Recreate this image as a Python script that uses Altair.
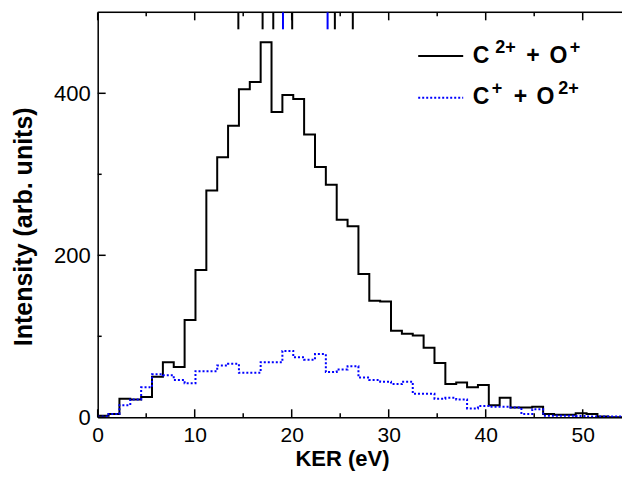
import altair as alt
import pandas as pd

# ---------------- data ----------------
bin_width = 1.12  # eV
black_counts = [2, 4, 23, 22, 25, 50, 68, 62, 120, 182,
                280, 321, 360, 405, 414, 463, 377, 398, 393, 349,
                309, 287, 244, 236, 177, 144, 143, 107, 103, 101,
                86, 67, 41, 43, 37, 40, 15, 24, 12, 12,
                13, 4, 3, 3, 5, 4, 1, 0, 0]
blue_counts = [1, 4, 15, 22, 37, 53, 52, 46, 42, 57,
               57, 64, 66, 55, 55, 68, 68, 82, 74, 71,
               78, 56, 59, 63, 49, 46, 44, 41, 44, 29,
               29, 23, 24, 22, 11, 14, 13, 13, 12, 4,
               10, 2, 2, 2, 1.5, 1, 1, 1, 1]
black_markers = [14.5, 17.0, 18.1, 20.05, 24.45, 26.3]
blue_markers = [19.1, 23.7]
x_major = [0, 10, 20, 30, 40, 50]
x_minor = [5, 15, 25, 35, 45]
y_major = [0, 200, 400]
y_minor = [100, 300]

# ---------------- layout ----------------
PX_PER_EV = 9.70
PLOT_W = 524.3
PLOT_H = 405
XMAX = PLOT_W / PX_PER_EV
YMAX = 500
FONT = "Liberation Sans"

# ---------------- tables ----------------
edges = [round(i * bin_width, 4) for i in range(len(black_counts) + 1)]
df_black = pd.DataFrame({"ker": edges, "val": black_counts + [black_counts[-1]]})
df_blue = pd.DataFrame({"ker": edges, "val": blue_counts + [blue_counts[-1]]})

# inward tick marks (lengths in data units)
XT_MAJ, XT_MIN = 9.9, 4.9      # along y (counts)
YT_MAJ, YT_MIN = 0.82, 0.41    # along x (eV)
rows = []
for t in x_major:
    rows.append(dict(ker=t, ker2=t, val=0, val2=XT_MAJ))
    rows.append(dict(ker=t, ker2=t, val=YMAX, val2=YMAX - XT_MAJ))
for t in x_minor:
    rows.append(dict(ker=t, ker2=t, val=0, val2=XT_MIN))
    rows.append(dict(ker=t, ker2=t, val=YMAX, val2=YMAX - XT_MIN))
for t in y_major:
    rows.append(dict(ker=0, ker2=YT_MAJ, val=t, val2=t))
for t in y_minor:
    rows.append(dict(ker=0, ker2=YT_MIN, val=t, val2=t))
rows.append(dict(ker=0, ker2=XMAX, val=YMAX, val2=YMAX))  # top frame line
df_ticks = pd.DataFrame(rows)

MK_LEN = 21
df_mk_black = pd.DataFrame({"ker": black_markers, "val": [YMAX] * len(black_markers),
                            "val2": [YMAX - MK_LEN] * len(black_markers)})
df_mk_blue = pd.DataFrame({"ker": blue_markers, "val": [YMAX] * len(blue_markers),
                           "val2": [YMAX - MK_LEN] * len(blue_markers)})

# ---------------- encodings ----------------
xscale = alt.Scale(domain=[0, XMAX], nice=False, zero=False)
yscale = alt.Scale(domain=[0, YMAX], nice=False, zero=False)

x_axis = alt.Axis(values=x_major, ticks=False, grid=False, labelPadding=7,
                  labelFontSize=21, labelFont=FONT, labelColor="black",
                  domainColor="black", domainWidth=1.5,
                  title="KER (eV)", titleFont=FONT, titleFontSize=22,
                  titleFontWeight="bold", titleColor="black",
                  titleBaseline="alphabetic", titleY=48.5, titleX=244.3,
                  titleAlign="center", labelFlush=False)
y_axis = alt.Axis(values=y_major, ticks=False, grid=False, labelPadding=7.5,
                  labelFontSize=22, labelFont=FONT, labelColor="black",
                  domainColor="black", domainWidth=1.5,
                  title="Intensity (arb. units)", titleFont=FONT, titleFontSize=25,
                  titleFontWeight="bold", titleColor="black",
                  titleBaseline="alphabetic", titleX=-66, titleY=214,
                  titleAngle=270, titleAlign="center", labelFlush=False)


def X():
    return alt.X("ker:Q", scale=xscale, axis=x_axis)


def Y():
    return alt.Y("val:Q", scale=yscale, axis=y_axis)


black_line = alt.Chart(df_black).mark_line(
    interpolate="step-after", color="black", strokeWidth=2, clip=True
).encode(x=X(), y=Y())

blue_line = alt.Chart(df_blue).mark_line(
    interpolate="step-after", color="#0000ff", strokeWidth=2,
    strokeDash=[2, 2], clip=True
).encode(x=X(), y=Y())

ticks = alt.Chart(df_ticks).mark_rule(color="black", strokeWidth=1.5).encode(
    x=X(), x2="ker2:Q", y=Y(), y2="val2:Q")

mk_black = alt.Chart(df_mk_black).mark_rule(color="black", strokeWidth=2).encode(
    x=X(), y=Y(), y2="val2:Q")
mk_blue = alt.Chart(df_mk_blue).mark_rule(color="#0000ff", strokeWidth=2).encode(
    x=X(), y=Y(), y2="val2:Q")

# ---------------- legend ----------------
one = pd.DataFrame({"a": [0]})


def leg_rule(y, color, dash=None):
    kw = dict(color=color, strokeWidth=2)
    if dash:
        kw["strokeDash"] = dash
    return alt.Chart(one).mark_rule(**kw).encode(
        x=alt.value(320.5), x2=alt.value(365.5), y=alt.value(y))


def leg_text(txt, x, y, size):
    return alt.Chart(one).mark_text(
        text=txt, align="center", baseline="alphabetic", font=FONT,
        fontWeight="bold", fontSize=size, color="black"
    ).encode(x=alt.value(x), y=alt.value(y))


BIG, SUP = 23, 18
L1, L1S = 51, 41
L2, L2S = 91.7, 81.2
legend = [
    leg_rule(43.7, "black"),
    leg_rule(85.4, "#0000ff", [2, 2]),
    # C2+ + O+
    leg_text("C", 383.3, L1, BIG),
    leg_text("2+", 407.8, L1S, SUP),
    leg_text("+", 435.3, L1, BIG),
    leg_text("O", 460.8, L1, BIG),
    leg_text("+", 477.3, L1S, SUP),
    # C+ + O2+
    leg_text("C", 383.3, L2, BIG),
    leg_text("+", 399.3, L2S, SUP),
    leg_text("+", 422.8, L2, BIG),
    leg_text("O", 447.8, L2, BIG),
    leg_text("2+", 470.8, L2S, SUP),
]

chart = alt.layer(black_line, blue_line, ticks, mk_black, mk_blue, *legend).properties(
    width=PLOT_W, height=PLOT_H,
    padding={"left": 89.7, "top": 4.3, "right": 0, "bottom": 53.7},
    autosize=alt.AutoSizeParams(type="none"),
).configure_view(stroke=None).configure(background="white")

chart.save("out.html", embed_options={"renderer": "svg", "actions": False})
